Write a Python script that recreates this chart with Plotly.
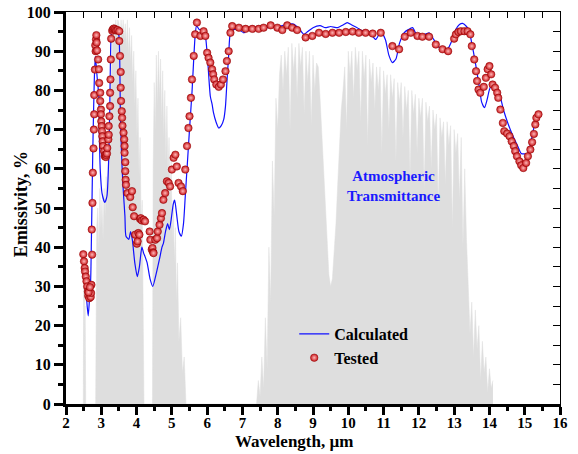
import plotly.graph_objects as go

# ---------------- data ----------------
# Atmospheric transmittance (grey background), wavelength µm / %
atm_wl = [2.40, 2.49, 2.50, 2.51, 2.52, 2.53, 2.54, 2.56,
          2.84, 2.87, 2.90, 2.93, 2.96, 2.99, 3.02, 3.05, 3.08, 3.11, 3.14, 3.17, 3.20, 3.23,
          3.26, 3.29, 3.32, 3.35, 3.38, 3.41, 3.44, 3.47, 3.50, 3.53, 3.56, 3.59, 3.62, 3.65,
          3.68, 3.71, 3.74, 3.77, 3.80, 3.83, 3.86, 3.89, 3.92, 3.95, 3.98, 4.01, 4.04, 4.07,
          4.10, 4.13, 4.16, 4.19, 4.21,
          4.45, 4.47, 4.50, 4.53, 4.56, 4.59, 4.62, 4.65, 4.68, 4.71, 4.74, 4.77, 4.80, 4.83,
          4.86, 4.89, 4.92, 4.95, 4.98, 5.01, 5.04, 5.07, 5.10, 5.13, 5.16, 5.20, 5.25, 5.30,
          5.35, 5.40,
          7.40, 7.45, 7.50, 7.55, 7.60, 7.65, 7.70, 7.75, 7.80, 7.85, 7.90, 7.95, 8.00, 8.05,
          8.10, 8.15, 8.20, 8.25, 8.30, 8.35, 8.40, 8.45, 8.50, 8.55, 8.60, 8.65, 8.70, 8.75,
          8.80, 8.85, 8.90, 8.95, 9.00, 9.05, 9.10, 9.15, 9.20, 9.25, 9.30, 9.35, 9.40, 9.45,
          9.50, 9.55, 9.60, 9.65, 9.70, 9.75, 9.80, 9.85, 9.90, 9.95, 10.00, 10.05, 10.10,
          10.15, 10.20, 10.25, 10.30, 10.35, 10.40, 10.45, 10.50, 10.55, 10.60, 10.65, 10.70,
          10.75, 10.80, 10.85, 10.90, 10.95, 11.00, 11.05, 11.10, 11.15, 11.20, 11.25, 11.30,
          11.35, 11.40, 11.45, 11.50, 11.55, 11.60, 11.65, 11.70, 11.75, 11.80, 11.85, 11.90,
          11.95, 12.00, 12.05, 12.10, 12.15, 12.20, 12.25, 12.30, 12.35, 12.40, 12.45, 12.50,
          12.55, 12.60, 12.65, 12.70, 12.75, 12.80, 12.85, 12.90, 12.95, 13.00, 13.05, 13.10,
          13.15, 13.20, 13.25, 13.30, 13.35, 13.40, 13.45, 13.50, 13.55, 13.60, 13.65, 13.70,
          13.75, 13.80, 13.85, 13.90, 13.95, 14.00, 14.05, 14.10]
atm_tr = [0, 0, 30, 5, 38, 4, 25, 0,
          0, 45, 50, 40, 55, 45, 52, 42, 55, 48, 58, 50, 65, 58,
          75, 85, 92, 97, 93, 98, 95, 98, 97, 92, 98, 94, 98, 93,
          97, 91, 98, 89, 96, 87, 94, 82, 90, 76, 85, 68, 78, 58,
          68, 45, 52, 22, 0,
          0, 60, 82, 70, 89, 76, 90, 78, 88, 72, 85, 68, 80, 62,
          76, 58, 68, 52, 62, 42, 52, 36, 45, 26, 36, 16, 22, 8,
          12, 0,
          0, 6, 2, 12, 4, 22, 9, 40, 26, 62, 48, 78, 70, 84,
          89, 80, 90, 84, 91, 70, 92, 85, 91, 78, 92, 86, 91, 74,
          90, 82, 90, 71, 89, 80, 87, 86, 78, 68, 58, 48, 42, 33,
          30, 32, 38, 46, 56, 68, 75, 80, 86, 70, 90, 84, 90,
          78, 91, 85, 90, 72, 90, 83, 89, 66, 88, 82, 87, 75,
          86, 80, 86, 64, 85, 79, 84, 70, 84, 78, 83, 62,
          82, 77, 82, 68, 81, 75, 80, 58, 80, 74, 79, 64, 78,
          73, 78, 55, 77, 72, 76, 60, 75, 70, 74, 50, 73, 68,
          72, 56, 72, 66, 71, 45, 70, 64, 69, 52, 68, 40, 60,
          42, 28, 18, 26, 12, 24, 14, 20, 6, 16, 8, 12,
          3, 9, 4, 6, 1, 3, 1, 0]

# Calculated emissivity (blue line)
calc_wl = [2.52, 2.55, 2.60, 2.63, 2.66, 2.70, 2.72, 2.76, 2.80, 2.83, 2.86, 2.88, 2.93, 2.95,
           2.97, 3.02, 3.10, 3.16, 3.21, 3.24, 3.26, 3.29, 3.35, 3.45, 3.50, 3.54, 3.57, 3.61,
           3.67, 3.70, 3.78, 3.83, 3.88, 3.95, 4.02, 4.08, 4.15, 4.20, 4.24, 4.30, 4.38, 4.46,
           4.55, 4.65, 4.72, 4.76, 4.82, 4.88, 4.93, 4.98, 5.04, 5.08, 5.14, 5.20, 5.27, 5.33,
           5.38, 5.43, 5.50, 5.57, 5.62, 5.66, 5.70, 5.78, 5.88, 5.95, 6.02, 6.09, 6.14, 6.18,
           6.25, 6.33, 6.40, 6.47, 6.52, 6.56, 6.61, 6.66, 6.75, 6.90, 7.04, 7.15, 7.30, 7.50,
           7.70, 7.90, 8.10, 8.30, 8.45, 8.60, 8.74, 8.85, 9.00, 9.20, 9.35, 9.50, 9.70, 9.85,
           9.97, 10.10, 10.25, 10.40, 10.60, 10.78, 10.92, 11.05, 11.15, 11.25, 11.35, 11.45,
           11.58, 11.70, 11.82, 11.96, 12.10, 12.29, 12.42, 12.53, 12.67, 12.81, 12.95, 13.05,
           13.15, 13.24, 13.35, 13.43, 13.50, 13.57, 13.64, 13.71, 13.78, 13.86, 13.93, 14.00,
           14.07, 14.14, 14.22, 14.28, 14.40, 14.52, 14.66, 14.80, 14.90, 15.00, 15.09, 15.18,
           15.27, 15.35, 15.42]
calc_em = [36.0, 31.0, 25.0, 22.5, 26.0, 32.0, 42.0, 65.0, 82.0, 88.7, 86.0, 83.6, 78.5, 66.6,
           59.8, 53.8, 51.4, 53.0, 62.4, 75.1, 87.9, 94.7, 95.6, 95.4, 93.9, 75.1, 64.9, 56.4,
           47.9, 42.8, 42.0, 44.0, 41.9, 36.0, 32.5, 35.0, 40.0, 38.5, 37.6, 36.0, 32.0, 30.0,
           33.0, 37.0, 40.0, 41.0, 44.0, 46.0, 44.5, 47.0, 51.0, 52.0, 48.0, 44.0, 42.8, 46.0,
           53.0, 60.0, 70.0, 79.4, 88.0, 94.0, 96.5, 95.5, 95.5, 93.9, 87.0, 78.5, 76.5, 74.3,
           72.0, 70.4, 71.0, 72.6, 76.0, 82.0, 89.0, 94.7, 95.5, 95.5, 94.7, 95.5, 95.8, 96.0,
           96.0, 96.3, 96.5, 96.9, 96.9, 95.8, 94.3, 95.0, 96.0, 96.5, 96.0, 96.3, 96.0, 96.7,
           97.3, 96.7, 96.0, 95.2, 94.8, 93.0, 95.0, 93.0, 89.0, 87.1, 88.0, 92.0,
           94.7, 95.5, 96.0, 93.9, 94.0, 94.7, 93.0, 91.3, 90.5, 90.5, 93.0, 95.6,
           96.8, 97.1, 96.3, 95.1, 92.0, 88.7, 85.0, 81.1, 77.0, 75.6, 77.5, 80.2,
           81.5, 81.3, 80.5, 79.4, 75.0, 71.7, 68.5, 65.8, 63.9, 63.8, 64.0, 67.0,
           70.9, 72.8, 73.9]

# Tested emissivity (red spheres)
test_wl = [2.49, 2.51, 2.53, 2.54, 2.56, 2.58, 2.60, 2.62, 2.63, 2.66, 2.70, 2.71, 2.72, 2.74,
           2.73, 2.64, 2.68,
           2.75, 2.76, 2.78, 2.79, 2.80, 2.80, 2.82, 2.83, 2.84, 2.85, 2.86, 2.87, 2.88,
           2.91, 2.93, 2.94, 2.97, 2.97, 2.99, 2.99, 3.00, 3.01, 3.02, 3.03, 3.04, 3.05, 3.08,
           3.10, 3.11, 3.13, 3.14, 3.16, 3.17, 3.20, 3.21, 3.21, 3.23, 3.25, 3.25, 3.26, 3.27,
           3.28, 3.31, 3.33, 3.36, 3.39, 3.42, 3.46, 3.51, 3.51,
           3.53, 3.55, 3.55, 3.56, 3.58, 3.59, 3.60, 3.63, 3.65, 3.66, 3.66, 3.68, 3.68, 3.69,
           3.70, 3.74, 3.82, 3.87, 3.89, 3.93, 3.96, 4.01, 4.03, 4.05, 4.08, 4.10, 4.12, 4.15,
           4.20, 4.24, 4.37, 4.39, 4.43, 4.45, 4.47, 4.48, 4.53, 4.58, 4.60, 4.65, 4.69, 4.72,
           4.76, 4.81, 4.86, 4.91, 4.95, 5.00, 5.05, 5.10, 5.14, 5.19, 5.26, 5.31, 5.38, 5.43,
           5.47, 5.50, 5.54, 5.57, 5.62, 5.66, 5.71,
           5.81, 5.90, 5.95, 6.00, 6.04, 6.09, 6.14, 6.17, 6.20, 6.26, 6.33, 6.39, 6.45, 6.52,
           6.56, 6.61, 6.66, 6.71, 6.90, 7.09, 7.28, 7.46, 7.60, 7.80, 7.99, 8.13, 8.27, 8.41,
           8.55, 8.79, 8.98, 9.17, 9.36, 9.55, 9.74, 9.93, 10.12, 10.30, 10.49, 10.69, 10.92,
           11.25, 11.44, 11.60, 11.77, 11.96, 12.10, 12.29, 12.48, 12.67, 12.83, 13.00, 13.05,
           13.12, 13.19, 13.29, 13.38, 13.46, 13.50, 13.57, 13.62, 13.65, 13.69, 13.74, 13.84,
           13.90, 13.95, 14.00, 14.05, 14.09, 14.16, 14.22, 14.25, 14.31, 14.38, 14.42, 14.50,
           14.57, 14.63, 14.69, 14.73, 14.78, 14.85, 14.90, 14.96, 15.04, 15.09, 15.16, 15.21,
           15.26, 15.30, 15.33, 15.39]
test_em = [38.2, 36.4, 34.7, 33.8, 32.5, 31.3, 30.0, 28.7, 27.6, 27.0, 27.3, 28.3, 30.4, 38.1,
           44.5, 28.5, 29.8,
           51.3, 59.0, 65.2, 70.0, 73.9, 78.8, 85.3, 91.5, 90.0, 93.0, 94.1, 92.2, 90.2,
           87.9, 85.4, 81.9, 79.4, 77.3, 75.1, 73.9, 72.1, 70.9, 69.6, 68.3, 67.0, 65.8, 64.5,
           63.2, 63.6, 63.0, 63.5, 63.9, 65.3, 67.5, 68.7, 70.9, 73.4, 76.0, 79.4, 82.8, 87.9,
           93.2, 95.2, 95.6, 95.8, 95.6, 95.3, 95.4, 95.1, 92.6,
           88.8, 84.7, 80.7, 77.3, 74.7, 73.0, 71.0, 69.2, 67.5, 65.8, 64.1, 61.7, 59.4, 57.2,
           55.9, 53.8, 52.8, 54.3, 50.2, 47.9, 43.2, 40.9, 41.5, 43.6, 43.2, 47.2, 47.4, 46.8,
           47.0, 46.6, 44.0, 41.9, 39.4, 39.8, 38.7, 38.5, 41.9, 42.3, 44.0, 45.7, 47.4, 48.7,
           52.1, 53.8, 56.8, 56.4, 55.5, 59.8, 62.8, 63.6, 60.6, 56.4, 55.5, 54.3, 59.8, 65.8,
           70.4, 73.4, 78.1, 82.8, 88.8, 94.3, 97.3,
           93.9, 95.1, 93.9, 89.6, 88.3, 87.1, 85.4, 84.1, 82.8, 81.5, 80.9, 81.5, 82.8, 84.9,
           87.5, 90.0, 94.7, 96.4, 96.0, 95.7, 95.7, 95.7, 96.0, 96.6, 96.0, 95.4, 96.6, 96.0,
           95.4, 93.5, 93.9, 94.7, 94.4, 94.7, 94.7, 94.9, 95.0, 94.7, 94.7, 94.5, 94.7,
           91.3, 90.5, 93.7, 94.7, 93.9, 93.7, 93.7, 91.7, 90.5, 90.0, 93.2, 94.3,
           94.9, 95.1, 95.1, 95.1, 94.3, 91.3, 87.9, 84.9, 82.4, 80.2, 79.4, 80.9,
           83.2, 85.4, 86.2, 84.1, 81.5, 80.7, 79.4, 78.1, 75.1, 71.7, 69.6, 69.0,
           68.3, 67.0, 65.8, 64.5, 63.2, 61.9, 60.9, 60.2, 61.5, 63.2, 64.9, 66.8,
           68.9, 71.3, 73.0, 73.9]

x_ticks = list(range(2, 17))
y_ticks = list(range(0, 101, 10))

SERIF = "Liberation Serif, Times New Roman, serif"

fig = go.Figure()

fig.add_trace(go.Scatter(
    x=atm_wl, y=atm_tr, mode="lines", fill="tozeroy",
    line=dict(color="#dedede", width=0.5), fillcolor="#dedede",
    showlegend=False, hoverinfo="skip"))

fig.add_trace(go.Scatter(
    x=calc_wl, y=calc_em, mode="lines", name="Calculated",
    line=dict(color="#1010ff", width=1.2, shape="spline", smoothing=0.6)))

fig.add_trace(go.Scatter(
    x=test_wl, y=test_em, mode="markers", name="Tested",
    marker=dict(size=7.5, color="#c8161a",
                gradient=dict(type="radial", color="#ffb8b8"),
                line=dict(color="#8b0000", width=0.5))))

# invisible trace for the mirrored (top/right) axes
fig.add_trace(go.Scatter(x=[None], y=[None], xaxis="x2", yaxis="y2",
                         showlegend=False, hoverinfo="skip"))

fig.update_layout(
    width=578, height=454,
    margin=dict(l=66, r=18, t=12, b=50, autoexpand=False),
    paper_bgcolor="white", plot_bgcolor="white",
    font=dict(family=SERIF, color="black"),
    showlegend=True,
    legend=dict(x=0.462, y=0.222, xanchor="left", yanchor="top",
                bgcolor="rgba(0,0,0,0)",
                font=dict(family=SERIF, size=16, weight="bold", color="black"),
                tracegroupgap=0),
    xaxis=dict(range=[2, 16], tickvals=x_ticks, ticktext=[str(v) for v in x_ticks],
               showgrid=False, zeroline=False, automargin=False,
               showline=True, linecolor="black", linewidth=3,
               ticks="outside", ticklen=8, tickwidth=3, tickcolor="black",
               ticklabelstandoff=-5,
               minor=dict(ticks="outside", dtick=0.5, tick0=2, ticklen=4,
                          tickwidth=3, tickcolor="black"),
               tickfont=dict(family=SERIF, size=15, weight="bold")),
    yaxis=dict(range=[0, 100], tickvals=y_ticks, ticktext=[str(v) for v in y_ticks],
               showgrid=False, zeroline=False, automargin=False,
               showline=True, linecolor="black", linewidth=3,
               ticks="outside", ticklen=9, tickwidth=3, tickcolor="black",
               minor=dict(ticks="outside", dtick=5, tick0=0, ticklen=5,
                          tickwidth=3, tickcolor="black"),
               tickfont=dict(family=SERIF, size=16, weight="bold")),
    xaxis2=dict(overlaying="x", side="top", anchor="y", matches="x", range=[2, 16],
                showgrid=False, zeroline=False, showticklabels=False, automargin=False,
                showline=True, linecolor="black", linewidth=1.2,
                ticks="inside", tick0=2, dtick=0.5, ticklen=6, tickwidth=1,
                tickcolor="black"),
    yaxis2=dict(overlaying="y", side="right", anchor="x", range=[0, 100],
                showgrid=False, zeroline=False, showticklabels=False, automargin=False,
                showline=True, linecolor="black", linewidth=1.2,
                ticks="inside", tick0=0, dtick=5, ticklen=7, tickwidth=1,
                tickcolor="black"),
    annotations=[
        dict(x=11.29, y=55.7, xref="x", yref="y",
             text="Atmospheric<br>Transmittance", showarrow=False,
             font=dict(family=SERIF, size=15, weight="bold", color="#1a1aff")),
        dict(x=0.4615, y=-0.1245, xref="paper", yref="paper",
             xanchor="center", yanchor="bottom",
             text="Wavelength, µm", showarrow=False,
             font=dict(family=SERIF, size=17, weight="bold", color="black")),
        dict(x=-0.091, y=0.51, xref="paper", yref="paper",
             xanchor="center", yanchor="middle", textangle=-90,
             text="Emissivity, %", showarrow=False,
             font=dict(family=SERIF, size=18, weight="bold", color="black")),
    ],
)

fig.write_html("out.html")
